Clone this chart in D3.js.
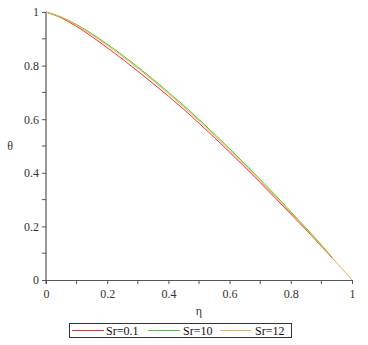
<!DOCTYPE html>
<html>
<head>
<meta charset="utf-8">
<script src="https://cdn.jsdelivr.net/npm/d3@7"></script>
<style>
  body { margin: 0; background: #fff; }
  svg, svg text { font-family: "Liberation Serif", "Times New Roman", "DejaVu Serif", serif; }
</style>
</head>
<body>
<div id="chart"></div>
<script>
// eta values (x)
const etaRed = [0, 0.05, 0.1, 0.15, 0.2, 0.25, 0.3, 0.35, 0.4, 0.45, 0.5, 0.55, 0.6, 0.65, 0.7, 0.75, 0.8, 0.85, 0.9, 0.935];
const thetaRed = [1, 0.978, 0.946, 0.908, 0.867, 0.824, 0.779, 0.733, 0.686, 0.637, 0.585, 0.532, 0.477, 0.421, 0.364, 0.305, 0.246, 0.187, 0.126, 0.082];

const etaGreen = [0, 0.05, 0.1, 0.15, 0.2, 0.25, 0.3, 0.35, 0.4, 0.45, 0.5, 0.55, 0.6, 0.65, 0.7, 0.75, 0.8, 0.85, 0.9, 0.935];
const thetaGreen = [1, 0.981, 0.953, 0.919, 0.880, 0.839, 0.795, 0.749, 0.701, 0.651, 0.599, 0.545, 0.490, 0.433, 0.375, 0.316, 0.255, 0.194, 0.131, 0.085];

const etaOrange = [0, 0.05, 0.1, 0.15, 0.2, 0.25, 0.3, 0.35, 0.4, 0.45, 0.5, 0.55, 0.6, 0.65, 0.7, 0.75, 0.8, 0.85, 0.9, 0.95, 1];
const thetaOrange = [1, 0.980, 0.950, 0.915, 0.876, 0.834, 0.790, 0.744, 0.696, 0.646, 0.594, 0.540, 0.485, 0.428, 0.370, 0.311, 0.251, 0.190, 0.128, 0.064, 0];

const seriesNames = ["Sr=0.1", "Sr=10", "Sr=12"];
const seriesColors = ["#ff2a2a", "#44cc33", "#e8b250"];
const xTicks = [0, 0.2, 0.4, 0.6, 0.8, 1];
const yTicks = [0, 0.2, 0.4, 0.6, 0.8, 1];

const width = 368, height = 345;
const marginLeft = 46, marginRight = 16, marginTop = 12, marginBottom = 65;

const svg = d3.select("#chart").append("svg")
    .attr("width", width)
    .attr("height", height);

const x = d3.scaleLinear().domain([0, 1]).range([marginLeft, width - marginRight]);
const y = d3.scaleLinear().domain([0, 1]).range([height - marginBottom, marginTop]);

const axisColor = "#555";
const textColor = "#333";
const serif = "'Liberation Serif', 'Times New Roman', serif";

// minor ticks
const minor = d3.range(0.1, 1, 0.2);

// x axis
const gx = svg.append("g")
    .attr("transform", `translate(0,${y(0)})`)
    .call(d3.axisBottom(x).tickValues(xTicks).tickFormat(d3.format("~g")).tickSize(4).tickSizeOuter(0))
    .call(g => g.select(".domain").attr("stroke", axisColor).attr("stroke-width", 1.2));
gx.attr("font-family", serif);
gx.selectAll(".tick line").attr("stroke", axisColor);
gx.selectAll(".tick text").attr("fill", textColor).attr("font-size", 12).attr("dy", "0.95em");
svg.append("g")
    .attr("transform", `translate(0,${y(0)})`)
    .selectAll("line").data(minor).join("line")
    .attr("x1", d => x(d)).attr("x2", d => x(d))
    .attr("y1", 0).attr("y2", 4)
    .attr("stroke", axisColor);

// y axis
const gy = svg.append("g")
    .attr("transform", `translate(${x(0)},0)`)
    .call(d3.axisLeft(y).tickValues(yTicks).tickFormat(d3.format("~g")).tickSize(4).tickSizeOuter(0))
    .call(g => g.select(".domain").attr("stroke", axisColor).attr("stroke-width", 1.2).attr("d", `M0,${y(1)}V${y(0) + 4}`));
gy.attr("font-family", serif);
gy.selectAll(".tick line").attr("stroke", axisColor);
gy.selectAll(".tick text").attr("fill", textColor).attr("font-size", 12);
svg.append("g")
    .attr("transform", `translate(${x(0)},0)`)
    .selectAll("line").data(minor).join("line")
    .attr("x1", -4).attr("x2", 0)
    .attr("y1", d => y(d)).attr("y2", d => y(d))
    .attr("stroke", axisColor);

// axis labels
svg.append("text")
    .attr("x", (x(0) + x(1)) / 2).attr("y", 315)
    .attr("text-anchor", "middle").attr("font-size", 12).attr("fill", textColor)
    .attr("font-family", serif)
    .text("η");
svg.append("text")
    .attr("x", 10).attr("y", (y(0) + y(1)) / 2 + 4)
    .attr("text-anchor", "middle").attr("font-size", 12).attr("fill", textColor)
    .attr("font-family", serif)
    .text("θ");

// curves
const series = [
  { eta: etaRed, theta: thetaRed },
  { eta: etaGreen, theta: thetaGreen },
  { eta: etaOrange, theta: thetaOrange }
];
const line = d3.line()
    .x(d => x(d[0]))
    .y(d => y(d[1]))
    .curve(d3.curveMonotoneX);

[0, 1, 2].forEach(i => {
  const s = series[i];
  svg.append("path")
      .datum(s.eta.map((e, j) => [e, s.theta[j]]))
      .attr("fill", "none")
      .attr("stroke", seriesColors[i])
      .attr("stroke-width", 1)
      .attr("d", line);
});

// legend
const legend = svg.append("g").attr("font-family", serif);
legend.append("rect")
    .attr("x", 69.5).attr("y", 323.5)
    .attr("width", 222).attr("height", 14)
    .attr("fill", "#fff").attr("stroke", "#333");
const legendLineX = [72, 148, 220];
const legendLineW = [32, 32, 31];
const legendTextX = [106, 183, 255];
seriesNames.forEach((name, i) => {
  legend.append("line")
      .attr("x1", legendLineX[i]).attr("x2", legendLineX[i] + legendLineW[i])
      .attr("y1", 330.5).attr("y2", 330.5)
      .attr("stroke", seriesColors[i]).attr("stroke-width", 1);
  legend.append("text")
      .attr("x", legendTextX[i]).attr("y", 335)
      .attr("font-size", 12).attr("fill", "#111")
      .text(name);
});
</script>
</body>
</html>
